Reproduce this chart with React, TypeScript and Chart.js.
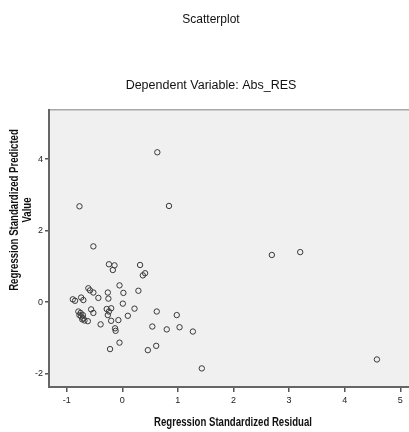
import React, { useEffect, useRef } from "react";
import { Chart, registerables } from "chart.js";

Chart.register(...registerables);

const chartTitle = "Scatterplot";
const chartSubtitle = "Dependent Variable: Abs_RES";
const xAxisTitle = "Regression Standardized Residual";
const yAxisTitle = ["Regression Standardized Predicted", "Value"];

const xTicks = [-1, 0, 1, 2, 3, 4, 5];
const yTicks = [-2, 0, 2, 4];

const residuals = [
  0.63, -0.77, 0.84, -0.52, -0.24, -0.14, -0.17, 0.32, 0.41, 0.37,
  2.69, 3.2, 1.27, 1.43, 4.58, -0.89, -0.85, -0.74, -0.7, -0.61,
  -0.58, -0.52, -0.43, -0.26, -0.25, -0.05, 0.02, 0.01, 0.29, 0.22,
  0.62, 0.98, 1.03, 0.8, 0.54, 0.61, 0.46, -0.05, -0.22, 0.1,
  -0.07, -0.13, -0.12, -0.2, -0.28, -0.2, -0.24, -0.26, -0.39, -0.56,
  -0.52, -0.62, -0.79, -0.77, -0.74, -0.72, -0.7, -0.71, -0.68, -0.75,
];
const predicted = [
  4.19, 2.68, 2.69, 1.56, 1.06, 1.03, 0.9, 1.04, 0.81, 0.75,
  1.32, 1.4, -0.82, -1.85, -1.6, 0.08, 0.04, 0.13, 0.06, 0.39,
  0.33, 0.27, 0.12, 0.27, 0.1, 0.47, 0.26, -0.04, 0.32, -0.18,
  -0.26, -0.36, -0.7, -0.76, -0.68, -1.22, -1.34, -1.13, -1.31, -0.38,
  -0.5, -0.73, -0.8, -0.52, -0.19, -0.17, -0.26, -0.36, -0.62, -0.2,
  -0.3, -0.53, -0.26, -0.36, -0.4, -0.48, -0.45, -0.36, -0.51, -0.3,
];

const FONT = "'Liberation Sans Narrow', 'Liberation Sans', Arial, sans-serif";

const plotBg = {
  id: "plotBg",
  beforeDraw(chart: any) {
    const { ctx, chartArea } = chart;
    ctx.save();
    ctx.fillStyle = "#f0f0f0";
    ctx.fillRect(chartArea.left, chartArea.top, chartArea.right - chartArea.left, chartArea.bottom - chartArea.top);
    ctx.strokeStyle = "#a8a8a8";
    ctx.lineWidth = 1.5;
    ctx.beginPath();
    ctx.moveTo(chartArea.left, chartArea.top);
    ctx.lineTo(chartArea.right, chartArea.top);
    ctx.stroke();
    ctx.restore();
  },
};

// Axis titles drawn in a condensed style (horizontal squeeze of the text)
const axisTitles = {
  id: "axisTitles",
  afterDraw(chart: any) {
    const { ctx } = chart;
    ctx.save();
    ctx.fillStyle = "#111";
    ctx.font = `bold 12px ${FONT}`;
    ctx.textAlign = "center";
    ctx.textBaseline = "middle";
    // x title
    ctx.save();
    ctx.translate(233, 422.5);
    ctx.scale(0.8, 1);
    ctx.fillText(xAxisTitle, 0, 0);
    ctx.restore();
    // y title (two lines)
    ctx.font = `bold 12px ${FONT}`;
    const xs = [15, 28];
    yAxisTitle.forEach((t, i) => {
      ctx.save();
      ctx.translate(xs[i], 210);
      ctx.rotate(-Math.PI / 2);
      ctx.scale(0.8, 1);
      ctx.fillText(t, 0, 0);
      ctx.restore();
    });
    ctx.restore();
  },
};

export default function App() {
  const ref = useRef<HTMLCanvasElement | null>(null);
  useEffect(() => {
    if (!ref.current) return;
    const points = residuals.map((x, i) => ({ x, y: predicted[i] }));
    const chart = new Chart(ref.current, {
      type: "scatter",
      data: {
        datasets: [
          {
            data: points,
            pointStyle: "circle",
            pointRadius: 2.7,
            pointBorderWidth: 1,
            pointBorderColor: "#3a3a3a",
            pointBackgroundColor: "rgba(0,0,0,0)",
          },
        ],
      },
      options: {
        responsive: false,
        animation: false,
        layout: { autoPadding: false, padding: { left: 13, right: 0, top: 0, bottom: 0 } },
        plugins: {
          legend: { display: false },
          tooltip: { enabled: false },
          title: {
            display: true,
            text: chartTitle,
            color: "#111",
            font: { family: FONT, size: 12, weight: "normal" },
            padding: { top: 12, bottom: 51.8 },
          },
          subtitle: {
            display: true,
            text: chartSubtitle,
            color: "#111",
            font: { family: FONT, size: 12.5, weight: "normal" },
            padding: { top: 0, bottom: 16.5 },
          },
        },
        scales: {
          x: {
            type: "linear",
            min: -1.318,
            max: 5.157,
            afterBuildTicks(scale: any) {
              scale.ticks = xTicks.map((v) => ({ value: v }));
            },
            afterFit(scale: any) {
              scale.height = 45;
              scale.paddingLeft = 0;
              scale.paddingRight = 0;
            },
            grid: { drawOnChartArea: false, drawTicks: true, tickLength: 5, color: "#555", lineWidth: 1.5 },
            border: { display: true, color: "#666", width: 2 },
            ticks: { color: "#222", font: { family: FONT, size: 9 }, padding: 3, callback: (v: any) => String(v) },
          },
          y: {
            type: "linear",
            min: -2.37,
            max: 5.38,
            afterBuildTicks(scale: any) {
              scale.ticks = yTicks.map((v) => ({ value: v }));
            },
            afterFit(scale: any) {
              scale.width = 36;
              scale.paddingTop = 0;
              scale.paddingBottom = 0;
            },
            grid: { drawOnChartArea: false, drawTicks: true, tickLength: 4, color: "#555", lineWidth: 1.5 },
            border: { display: true, color: "#666", width: 2 },
            ticks: { color: "#222", font: { family: FONT, size: 9 }, padding: 2, callback: (v: any) => String(v) },
          },
        },
      },
      plugins: [plotBg, axisTitles],
    });
    return () => chart.destroy();
  }, []);
  return (
    <div style={{ position: "fixed", left: 0, top: 0, width: 409, height: 432, background: "#fff" }}>
      <canvas ref={ref} width={409} height={432} style={{ width: 409, height: 432, display: "block" }} />
    </div>
  );
}
